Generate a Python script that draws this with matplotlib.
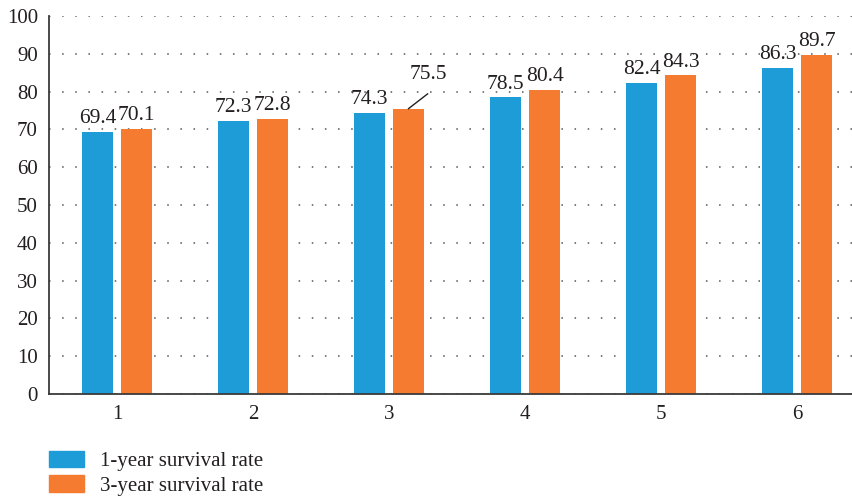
import numpy as np
import matplotlib
matplotlib.use('Agg')
import matplotlib.pyplot as plt
from matplotlib.patches import Patch

plt.rcParams['font.family'] = ['Liberation Serif', 'DejaVu Serif']

# data
groups = ['1', '2', '3', '4', '5', '6']
one_year = [69.4, 72.3, 74.3, 78.5, 82.4, 86.3]
three_year = [70.1, 72.8, 75.5, 80.4, 84.3, 89.7]

BLUE = '#1E9CD7'
ORANGE = '#F47B30'
TXT = '#231F20'

fig = plt.figure(figsize=(8.53, 4.96), dpi=100)
ax = fig.add_axes([0.0574, 0.2056, 0.9426, 0.7621])

x = np.arange(1, len(groups) + 1)
w = 0.228
off = 0.143
ax.bar(x - off, one_year, w, color=BLUE, zorder=2)
ax.bar(x + off, three_year, w, color=ORANGE, zorder=2)

for xi, v in zip(x, one_year):
    ax.text(xi - off, v + 1.0, f'{v}', ha='center', va='bottom', fontsize=15.5, color=TXT)
for i, (xi, v) in enumerate(zip(x, three_year)):
    if i == 2:
        # label pulled up with a leader line
        ax.plot([xi + off, xi + off + 0.14], [v, v + 3.9], color=TXT, lw=1, zorder=3)
        ax.text(xi + off + 0.143, v + 6.6, f'{v}', ha='center', va='bottom',
                fontsize=15.5, color=TXT)
    else:
        ax.text(xi + off, v + 1.0, f'{v}', ha='center', va='bottom', fontsize=15.5, color=TXT)

ax.set_xlim(0.5, 6.41)
ax.set_ylim(0, 100)
ax.set_yticks(np.arange(0, 101, 10))
ax.set_xticks(x)
ax.set_xticklabels(groups)
ax.tick_params(length=0, labelsize=15, colors=TXT, pad=8)
ax.tick_params(axis='y', pad=8)
ax.yaxis.grid(True, linestyle=(0, (1, 7.6)), color='#555555', lw=1.1)
ax.set_axisbelow(True)
for s in ['top', 'right']:
    ax.spines[s].set_visible(False)
for s in ['left', 'bottom']:
    ax.spines[s].set_color('#3a3a3a')
    ax.spines[s].set_linewidth(1.3)

handles = [Patch(color=BLUE, label='1-year survival rate'),
           Patch(color=ORANGE, label='3-year survival rate')]
fig.legend(handles=handles, loc='center left', bbox_to_anchor=(0.057, 0.046),
           frameon=False, fontsize=15, handlelength=1.68, handleheight=0.85,
           labelspacing=0.2, handletextpad=0.77, borderaxespad=0, borderpad=0,
           labelcolor=TXT)

fig.savefig('out.png', dpi=100)
